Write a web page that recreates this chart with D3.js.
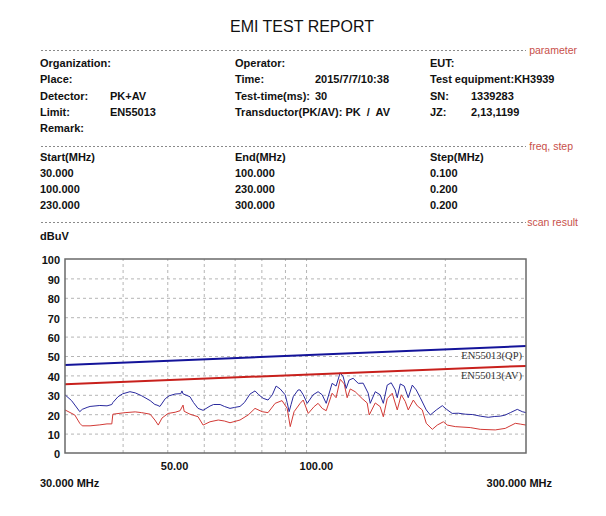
<!DOCTYPE html>
<html>
<head>
<meta charset="utf-8">
<script src="https://cdnjs.cloudflare.com/ajax/libs/d3/7.8.5/d3.min.js"></script>
<style>
  html, body { margin: 0; padding: 0; background: #fff; }
  svg { display: block; }
</style>
</head>
<body>
<script>
// ---------------- DATA ----------------
const title = "EMI TEST REPORT";
const sectionLabels = ["parameter", "freq, step", "scan result"];

const paramCol1 = [["Organization:", ""], ["Place:", ""], ["Detector:", "PK+AV"], ["Limit:", "EN55013"], ["Remark:", ""]];
const paramCol2 = [["Operator:", ""], ["Time:", "2015/7/7/10:38"], ["Test-time(ms):", "30"], ["Transductor(PK/AV): PK \u00a0/\u00a0 AV", ""]];
const paramCol3 = [["EUT:", ""], ["Test equipment:KH3939", ""], ["SN:", "1339283"], ["JZ:", "2,13,1199"]];

const freqHeader = ["Start(MHz)", "End(MHz)", "Step(MHz)"];
const freqStart = ["30.000", "100.000", "230.000"];
const freqEnd = ["100.000", "230.000", "300.000"];
const freqStep = ["0.100", "0.200", "0.200"];

const yUnit = "dBuV";
const yTicks = [0, 10, 20, 30, 40, 50, 60, 70, 80, 90, 100];
const xGridFreqs = [40, 50, 60, 70, 80, 90, 100, 200];
const xTickFreqs = [50, 100];
const xStartLabel = "30.000 MHz";
const xEndLabel = "300.000 MHz";

// limit lines (straight in log-frequency)
const limitFreqs = [30, 300];
const qpLimit = [45.3, 55.1];
const avLimit = [35.5, 44.9];
const qpLabel = "EN55013(QP)";
const avLabel = "EN55013(AV)";

// PK (blue) trace
const pkFreqs = [30, 31.0, 32.3, 32.7, 33.5, 34.0, 35.7, 37.0, 37.9, 38.1, 39.1, 40.0, 41.5, 42.6, 44.0, 45.9, 47.0, 47.5, 48.2, 49.5, 50.5, 52.0, 53.5, 53.8, 54.1, 56.0, 57.0, 58.3, 59.8, 61.9, 63.0, 65.1, 66.5, 68.4, 70.0, 71.9, 73.5, 75.6, 77.5, 79.0, 80.7, 82.7, 84.5, 86.1, 87.9, 90.1, 91.0, 91.9, 92.8, 93.8, 96.1, 97.1, 98.6, 100.6, 103.6, 106.2, 108.4, 110.6, 113.9, 116.2, 118.6, 120.4, 122.2, 124.0, 126.5, 129.8, 133.0, 136.4, 137.8, 141.3, 144.8, 147.1, 150.0, 153.0, 156.1, 157.7, 160.1, 163.3, 166.6, 170.0, 173.4, 176.9, 182.3, 186.0, 191.7, 197.5, 201.5, 207.5, 214, 221.5, 230, 238.7, 248.5, 256, 263.8, 270, 277.4, 287.2, 294.5, 300];
const pkValues = [30, 27, 21.3, 22.5, 23.5, 24, 24.5, 24.3, 25, 26, 29, 30.5, 31.6, 31, 29.5, 27, 25, 24.7, 24, 28, 29.5, 30.4, 30.6, 32, 30.5, 29, 26, 23, 22, 24.2, 25, 25, 24, 23, 23.5, 24, 26, 30.4, 32, 30, 28.2, 27.3, 30, 34.5, 33, 30, 26, 21.3, 25, 29, 32.5, 32.5, 30, 25.6, 30, 31.6, 30, 25.6, 35.9, 34.5, 41.4, 39.3, 33.3, 37.6, 38.5, 35.9, 36, 30.8, 25.6, 31.6, 30, 25.6, 35, 36.2, 32.5, 28.5, 35.6, 34.5, 28.5, 35, 32.5, 28.5, 22.2, 19.6, 22.2, 24.4, 22.6, 20.4, 20.5, 20, 19.8, 19, 18.4, 18.8, 19, 19.5, 20.8, 22.5, 21.3, 20.8];

// AV (red) trace
const avFreqs = [30, 31.5, 32.3, 32.7, 34.0, 35.7, 37.0, 37.9, 38.1, 40.5, 42.6, 44.0, 45.9, 47.0, 47.8, 48.7, 50.2, 52.0, 53.3, 54.1, 54.4, 56.0, 58.3, 59.8, 61.9, 64.5, 66.5, 68.4, 71.9, 74.9, 77.5, 80.3, 82.7, 85.7, 88.7, 91.0, 92.4, 94.2, 97.1, 98.6, 101.1, 104.1, 106.2, 108.4, 110.6, 113.9, 116.2, 118.6, 121.0, 122.8, 124.7, 127.8, 132.4, 135.7, 137.1, 141.3, 144.8, 147.1, 150.0, 153.8, 157.7, 160.9, 164.1, 166.6, 170.9, 174.3, 178.7, 182.3, 187.9, 192.6, 198.5, 202.5, 210.7, 227.1, 238.7, 257.3, 270.5, 284.4, 291.6, 300];
const avValues = [22.2, 19.6, 15.3, 14, 14, 14.5, 15, 15, 20, 20.8, 21.2, 20.8, 20, 17, 14.4, 18, 20.4, 21, 21.8, 24.7, 21.5, 20, 18.7, 14.4, 16.1, 17, 16.5, 15.6, 17, 19.6, 23, 21.3, 20.8, 25.6, 27, 23, 13.6, 21.3, 25.6, 27.3, 20.4, 23.9, 25.6, 23, 21.8, 30.8, 28.5, 38, 35.6, 28.5, 33, 31.6, 28, 25.8, 19.6, 25.8, 23.9, 18.7, 28, 30.8, 22.2, 30, 26.6, 22.2, 27.3, 24.3, 22.2, 15.3, 12.2, 14.4, 16.1, 14.4, 13.6, 13.1, 12.2, 11.9, 12.7, 15.3, 14.9, 14.4];

// ---------------- DRAW ----------------
const W = 606, H = 516;
const svg = d3.select("body").append("svg").attr("width", W).attr("height", H)
  .style("font-family", "'Liberation Sans', Arial, sans-serif");

function txt(x, y, s, o = {}) {
  return svg.append("text").attr("x", x).attr("y", y).text(s)
    .attr("font-size", o.size || 11)
    .attr("font-weight", o.weight || "bold")
    .attr("fill", o.fill || "#111")
    .attr("text-anchor", o.anchor || "start")
    .style("font-family", o.family || null);
}

// title
txt(302, 32, title, { size: 16, weight: "normal", anchor: "middle", fill: "#111" });

// section separators
const sepY = [50, 146, 222];
const sepLabelRight = [577, 573, 578];
sepY.forEach((yy, i) => {
  svg.append("line").attr("x1", 41).attr("x2", 526).attr("y1", yy + 0.5).attr("y2", yy + 0.5)
    .attr("stroke", "#8a8a8a").attr("stroke-width", 1).attr("stroke-dasharray", "2,2");
  txt(sepLabelRight[i], yy + 4, sectionLabels[i], { size: 10.5, weight: "normal", anchor: "end", fill: "#c8504a" });
});

// parameter block
const rowY = [67, 83, 100, 116, 132];
const colX = [40, 235, 430];
const valX = [110, 315, 471];
[paramCol1, paramCol2, paramCol3].forEach((col, ci) => {
  col.forEach((r, ri) => {
    txt(colX[ci], rowY[ri], r[0]);
    if (r[1]) txt(valX[ci], rowY[ri], r[1]);
  });
});

// freq table
const fRowY = [161, 177, 193, 209];
freqHeader.forEach((h, i) => txt(colX[i], fRowY[0], h, { size: 11 }));
[freqStart, freqEnd, freqStep].forEach((col, ci) => {
  col.forEach((v, ri) => txt(colX[ci], fRowY[ri + 1], v));
});

// y unit
txt(40, 240, yUnit);

// ---------------- chart ----------------
const px0 = 65, px1 = 526, py0 = 259, py1 = 453;
const x = d3.scaleLog().domain([30, 300]).range([px0, px1]);
const y = d3.scaleLinear().domain([0, 100]).range([py1, py0]);

const g = svg.append("g");

// horizontal grid
g.append("g").attr("transform", `translate(${px0},0)`)
  .call(d3.axisLeft(y).tickValues(yTicks.filter(v => v > 0 && v < 100)).tickSize(-(px1 - px0)).tickFormat(""))
  .call(a => a.select(".domain").remove())
  .call(a => a.selectAll("line").attr("stroke", "#b5b5b5").attr("stroke-dasharray", "3,3"));

// vertical grid
g.append("g").attr("transform", `translate(0,${py1})`)
  .call(d3.axisBottom(x).tickValues(xGridFreqs).tickSize(-(py1 - py0)).tickFormat(""))
  .call(a => a.select(".domain").remove())
  .call(a => a.selectAll("line").attr("stroke", "#b5b5b5").attr("stroke-dasharray", "3,3"));

// y labels
g.append("g").attr("transform", `translate(${px0},0)`)
  .call(d3.axisLeft(y).tickValues(yTicks).tickSize(0).tickPadding(5).tickFormat(d3.format("d")))
  .call(a => a.select(".domain").remove())
  .call(a => a.selectAll("text").attr("font-size", 11).attr("font-weight", "bold").attr("fill", "#111")
    .attr("dy", "0.45em").style("font-family", "'Liberation Sans', Arial, sans-serif"));

// x labels
g.append("g").attr("transform", `translate(0,${py1})`)
  .call(d3.axisBottom(x).tickValues(xTickFreqs).tickSize(0).tickPadding(9).tickFormat(d => d.toFixed(2)))
  .call(a => a.select(".domain").remove())
  .call(a => a.selectAll("text").attr("font-size", 11).attr("font-weight", "bold").attr("fill", "#111")
    .attr("text-anchor", "start").attr("dx", -7).style("font-family", "'Liberation Sans', Arial, sans-serif"));

txt(40, 487, xStartLabel);
txt(552, 487, xEndLabel, { anchor: "end" });

// clip
svg.append("clipPath").attr("id", "clip").append("rect")
  .attr("x", px0).attr("y", py0).attr("width", px1 - px0).attr("height", py1 - py0);

const line = d3.line().x(d => x(d[0])).y(d => y(d[1]));
const plot = svg.append("g").attr("clip-path", "url(#clip)");

// traces
plot.append("path").datum(avFreqs.map((f, i) => [f, avValues[i]]))
  .attr("d", line).attr("fill", "none").attr("stroke", "#d23a36").attr("stroke-width", 1);
plot.append("path").datum(pkFreqs.map((f, i) => [f, pkValues[i]]))
  .attr("d", line).attr("fill", "none").attr("stroke", "#2a2a9e").attr("stroke-width", 1);

// limits
plot.append("path").datum(limitFreqs.map((f, i) => [f, avLimit[i]]))
  .attr("d", line).attr("fill", "none").attr("stroke", "#c8201c").attr("stroke-width", 2);
plot.append("path").datum(limitFreqs.map((f, i) => [f, qpLimit[i]]))
  .attr("d", line).attr("fill", "none").attr("stroke", "#14149a").attr("stroke-width", 2);

// limit labels
txt(522, 359, qpLabel, { size: 10.5, weight: "normal", anchor: "end", fill: "#333", family: "'Liberation Serif', serif" });
txt(522, 379, avLabel, { size: 10.5, weight: "normal", anchor: "end", fill: "#333", family: "'Liberation Serif', serif" });

// border
svg.append("rect").attr("x", px0).attr("y", py0).attr("width", px1 - px0).attr("height", py1 - py0)
  .attr("fill", "none").attr("stroke", "#6a6a6a").attr("stroke-width", 1.5);
</script>
</body>
</html>
